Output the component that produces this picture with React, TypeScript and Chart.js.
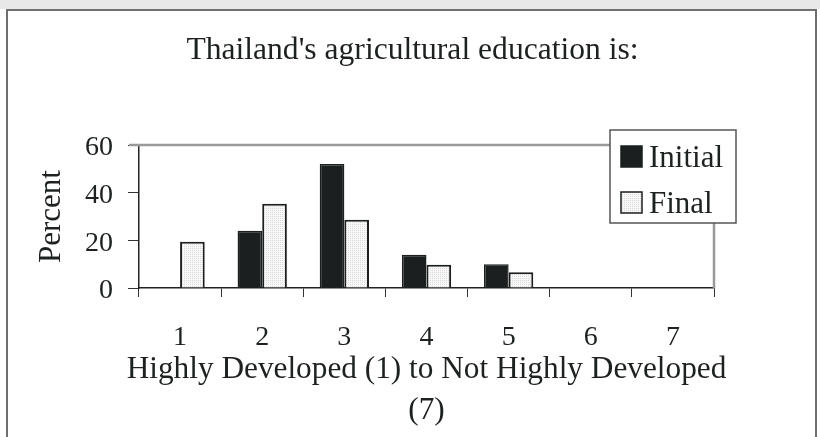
import React, { useEffect, useRef } from "react";
import { Chart, registerables } from "chart.js";

Chart.register(...registerables);

// ---- data ----
const TITLE = "Thailand's agricultural education is:";
const CATEGORIES = ["1", "2", "3", "4", "5", "6", "7"];
const SERIES_NAMES = ["Initial", "Final"];
const INITIAL = [0, 24, 52, 14, 10, 0, 0];
const FINAL = [19.4, 35.4, 28.6, 9.8, 6.6, 0, 0];
const Y_MIN = 0;
const Y_MAX = 60;
const Y_STEP = 20;
const X_TITLE = ["Highly Developed (1) to Not Highly Developed", "(7)"];
const Y_TITLE = "Percent";

const FONT = "'Liberation Serif', 'Times New Roman', serif";
const INK = "#1d2121";
const BAR_DARK = "#1b1f1f";

function makeStipple(): CanvasPattern | string {
  const c = document.createElement("canvas");
  c.width = 2;
  c.height = 2;
  const g = c.getContext("2d");
  if (!g) return "#f2f2f2";
  g.fillStyle = "#f7f7f7";
  g.fillRect(0, 0, 2, 2);
  g.fillStyle = "#dadada";
  g.fillRect(0, 0, 1, 1);
  const p = g.createPattern(c, "repeat");
  return p || "#f2f2f2";
}

const framePlugin = {
  id: "frameAndLegend",
  beforeDraw(chart: any) {
    const { ctx, width, height } = chart;
    ctx.save();
    ctx.fillStyle = "#ffffff";
    ctx.fillRect(0, 0, width, height);
    ctx.fillStyle = "#e8e8e8";
    ctx.fillRect(0, 0, width, 9);
    ctx.strokeStyle = "#6f6f6f";
    ctx.lineWidth = 2;
    ctx.beginPath();
    ctx.moveTo(7, height + 2);
    ctx.lineTo(7, 10);
    ctx.lineTo(816, 10);
    ctx.lineTo(816, height + 2);
    ctx.stroke();
    ctx.fillStyle = INK;
    ctx.font = `31.6px ${FONT}`;
    ctx.textAlign = "center";
    ctx.textBaseline = "alphabetic";
    ctx.fillText(TITLE, 412.5, 59);
    ctx.restore();
  },
  afterDraw(chart: any) {
    const { ctx, chartArea: a } = chart;
    ctx.save();
    // gray top and right plot borders
    ctx.strokeStyle = "#9a9a9a";
    ctx.lineWidth = 2.5;
    ctx.beginPath();
    ctx.moveTo(a.left - 10, a.top);
    ctx.lineTo(a.right, a.top);
    ctx.lineTo(a.right, a.bottom);
    ctx.stroke();

    // x-axis title (two lines, centred under the plot, not width-constrained)
    ctx.fillStyle = INK;
    ctx.font = `31.3px ${FONT}`;
    ctx.textAlign = "center";
    ctx.textBaseline = "middle";
    const cx = (a.left + a.right) / 2;
    X_TITLE.forEach((line, i) => {
      ctx.fillText(line, cx, a.bottom + 81.5 + i * 41.5);
    });

    // legend box
    const bx = 610, by = 130, bw = 126, bh = 93;
    ctx.fillStyle = "#ffffff";
    ctx.fillRect(bx, by, bw, bh);
    ctx.strokeStyle = "#555555";
    ctx.lineWidth = 1.5;
    ctx.strokeRect(bx, by, bw, bh);

    const ds = chart.data.datasets;
    const rows = [146, 192];
    ctx.font = `31px ${FONT}`;
    ctx.textAlign = "left";
    ctx.textBaseline = "alphabetic";
    ds.forEach((d: any, i: number) => {
      const y = rows[i];
      ctx.fillStyle = d.backgroundColor;
      ctx.fillRect(621, y, 21, 21);
      ctx.strokeStyle = BAR_DARK;
      ctx.lineWidth = 1.5;
      ctx.strokeRect(621, y, 21, 21);
      ctx.fillStyle = INK;
      ctx.fillText(d.label, 649, y + 21);
    });
    ctx.restore();
  },
};

export default function App() {
  const ref = useRef<HTMLCanvasElement | null>(null);

  useEffect(() => {
    if (!ref.current) return;
    const stipple = makeStipple();
    const chart = new Chart(ref.current, {
      type: "bar",
      data: {
        labels: CATEGORIES,
        datasets: [
          {
            label: SERIES_NAMES[0],
            data: INITIAL,
            backgroundColor: BAR_DARK,
            borderColor: BAR_DARK,
            borderWidth: 1.5,
            categoryPercentage: 0.6,
            barPercentage: 1.0,
          },
          {
            label: SERIES_NAMES[1],
            data: FINAL,
            backgroundColor: stipple as any,
            borderColor: BAR_DARK,
            borderWidth: 2,
            categoryPercentage: 0.6,
            barPercentage: 1.0,
          },
        ],
      },
      options: {
        responsive: false,
        animation: false,
        devicePixelRatio: 1,
        layout: { padding: { top: 145, right: 106, bottom: 0, left: 0 } },
        plugins: {
          legend: { display: false },
          title: { display: false },
          tooltip: { enabled: false },
        },
        scales: {
          x: {
            afterFit: (s: any) => {
              s.height = 149;
            },
            grid: {
              offset: true,
              drawOnChartArea: false,
              drawTicks: true,
              tickLength: 9,
              color: "#333333",
              lineWidth: 1,
            },
            border: { display: true, color: "#222222", width: 1.5 },
            ticks: {
              color: INK,
              font: { family: FONT, size: 28, lineHeight: 1.2 },
              padding: 24,
              maxRotation: 0,
            },
            title: { display: false },
          },
          y: {
            min: Y_MIN,
            max: Y_MAX,
            afterFit: (s: any) => {
              s.width = 139;
            },
            grid: {
              drawOnChartArea: false,
              drawTicks: true,
              tickLength: 11,
              color: "#333333",
              lineWidth: 1,
            },
            border: { display: true, color: "#222222", width: 1.5 },
            ticks: {
              stepSize: Y_STEP,
              color: INK,
              font: { family: FONT, size: 28, lineHeight: 1.2 },
              padding: 15,
              labelOffset: 3,
            },
            title: {
              display: true,
              text: Y_TITLE,
              color: INK,
              font: { family: FONT, size: 31, lineHeight: 1.2 },
              padding: { top: 33, bottom: 0 },
            },
          },
        },
      },
      plugins: [framePlugin],
    });
    return () => chart.destroy();
  }, []);

  return (
    <div style={{ position: "absolute", left: 0, top: 0, width: 820, height: 437 }}>
      <canvas ref={ref} width={820} height={437} style={{ display: "block", width: 820, height: 437 }} />
    </div>
  );
}
